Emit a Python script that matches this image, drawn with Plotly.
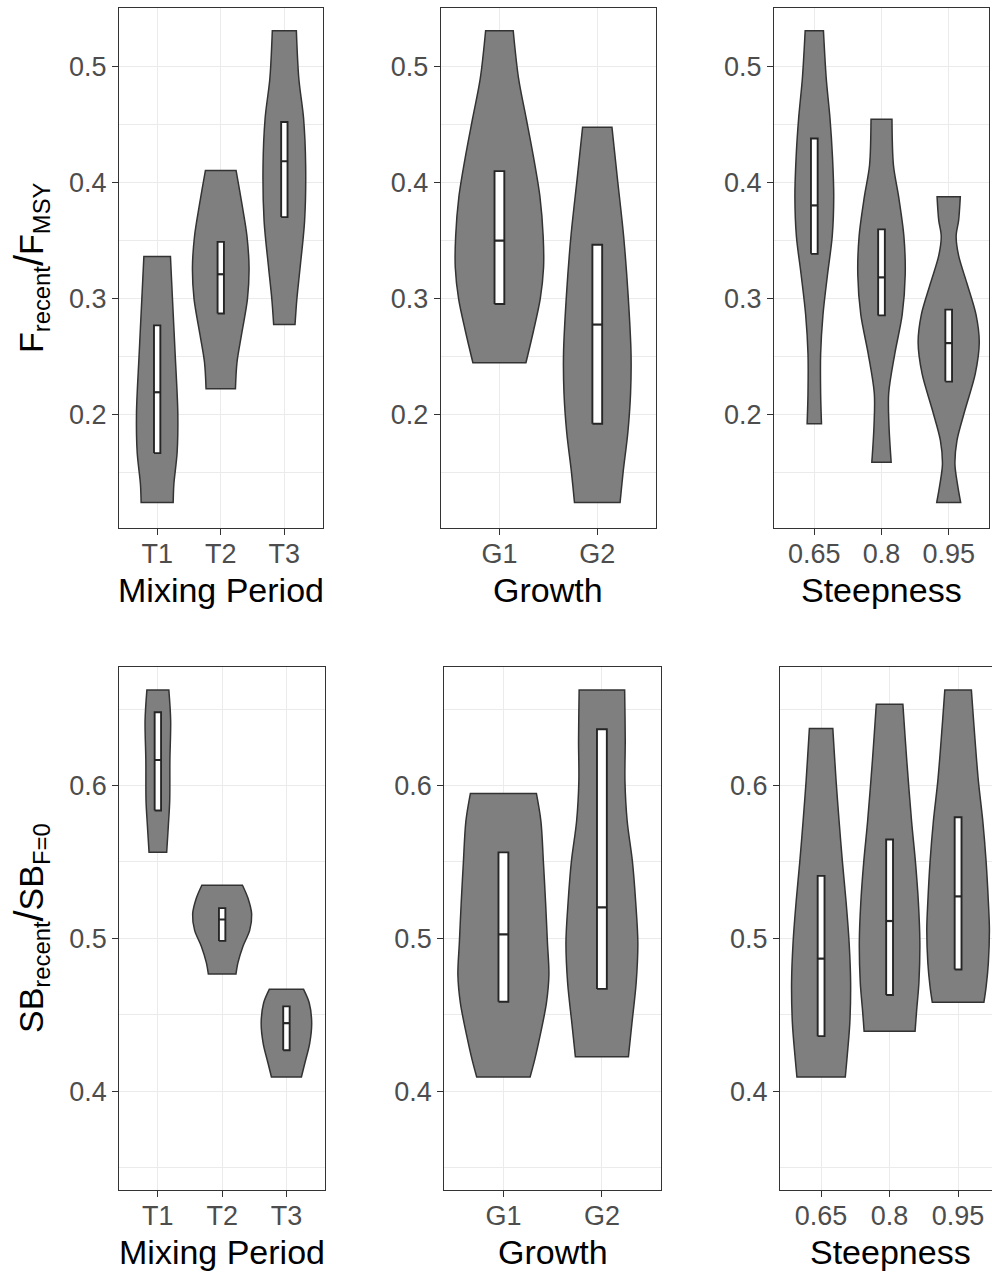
import plotly.graph_objects as go

# ---------------- data ----------------
mix_cats = ["T1", "T2", "T3"]
growth_cats = ["G1", "G2"]
steep_cats = ["0.65", "0.8", "0.95"]

# Violin profiles: y levels (top -> bottom) and half-widths (category units)
F_mix_y = [
    [0.3363, 0.2997, 0.2522, 0.2012, 0.1672, 0.1401, 0.1241],
    [0.4106, 0.381, 0.354, 0.3268, 0.2997, 0.2691, 0.2453, 0.2222],
    [0.5311, 0.4897, 0.4558, 0.415, 0.3675, 0.3268, 0.2997, 0.2776],
]
F_mix_w = [
    [0.209, 0.241, 0.283, 0.325, 0.314, 0.263, 0.252],
    [0.241, 0.335, 0.412, 0.445, 0.420, 0.327, 0.256, 0.231],
    [0.189, 0.228, 0.302, 0.335, 0.319, 0.248, 0.197, 0.168],
]
F_mix_q1 = [0.1667, 0.2871, 0.3703]
F_mix_med = [0.2192, 0.321, 0.4185]
F_mix_q3 = [0.2769, 0.3489, 0.4524]

F_growth_y = [
    [0.5311, 0.4897, 0.4558, 0.4218, 0.3879, 0.354, 0.3268, 0.2997, 0.2725, 0.2447],
    [0.4479, 0.4048, 0.354, 0.303, 0.2522, 0.2182, 0.1843, 0.1503, 0.1241],
]
F_growth_w = [
    [0.141, 0.196, 0.273, 0.349, 0.414, 0.447, 0.451, 0.417, 0.349, 0.271],
    [0.150, 0.204, 0.269, 0.315, 0.345, 0.340, 0.312, 0.264, 0.233],
]
F_growth_q1 = [0.2953, 0.192]
F_growth_med = [0.35, 0.2776]
F_growth_q3 = [0.41, 0.3465]

F_steep_y = [
    [0.5311, 0.4897, 0.4558, 0.4218, 0.3879, 0.354, 0.321, 0.2861, 0.2522, 0.2182, 0.192],
    [0.4547, 0.415, 0.3879, 0.354, 0.321, 0.2861, 0.2522, 0.2182, 0.191, 0.1588],
    [0.3879, 0.3675, 0.354, 0.337, 0.3132, 0.2861, 0.2623, 0.2352, 0.2047, 0.1775, 0.157, 0.1401, 0.1241],
]
F_steep_w = [
    [0.136, 0.178, 0.233, 0.271, 0.289, 0.267, 0.197, 0.129, 0.094, 0.094, 0.107],
    [0.156, 0.178, 0.255, 0.333, 0.353, 0.308, 0.197, 0.107, 0.111, 0.144],
    [0.173, 0.148, 0.111, 0.148, 0.271, 0.407, 0.455, 0.396, 0.247, 0.123, 0.093, 0.130, 0.178],
]
F_steep_q1 = [0.3386, 0.2855, 0.2284]
F_steep_med = [0.3804, 0.3183, 0.2616]
F_steep_q3 = [0.4381, 0.3597, 0.2905]

SB_mix_y = [
    [0.6624, 0.6426, 0.6162, 0.5898, 0.5739, 0.5563],
    [0.5348, 0.5264, 0.5159, 0.5053, 0.4948, 0.4842, 0.4768],
    [0.4667, 0.4578, 0.4446, 0.4314, 0.4182, 0.4094],
]
SB_mix_w = [
    [0.171, 0.199, 0.187, 0.184, 0.163, 0.137],
    [0.316, 0.401, 0.459, 0.428, 0.323, 0.246, 0.215],
    [0.267, 0.355, 0.393, 0.362, 0.285, 0.233],
]
SB_mix_q1 = [0.5837, 0.4984, 0.4269]
SB_mix_med = [0.6167, 0.5124, 0.4446]
SB_mix_q3 = [0.6479, 0.5198, 0.4556]

SB_growth_y = [
    [0.5948, 0.5766, 0.5502, 0.5238, 0.4974, 0.4762, 0.4578, 0.4366, 0.4208, 0.4094],
    [0.6624, 0.6294, 0.603, 0.5766, 0.5502, 0.5238, 0.4974, 0.471, 0.4446, 0.4226],
]
SB_growth_w = [
    [0.335, 0.381, 0.406, 0.428, 0.447, 0.462, 0.437, 0.373, 0.318, 0.271],
    [0.231, 0.237, 0.234, 0.257, 0.310, 0.343, 0.365, 0.348, 0.305, 0.269],
]
SB_growth_q1 = [0.4586, 0.467]
SB_growth_med = [0.5026, 0.5203]
SB_growth_q3 = [0.5563, 0.6368]

SB_steep_y = [
    [0.6373, 0.603, 0.5766, 0.5502, 0.5238, 0.4974, 0.471, 0.4446, 0.4235, 0.4094],
    [0.6532, 0.6162, 0.5766, 0.5502, 0.5238, 0.4974, 0.471, 0.4525, 0.4393],
    [0.6624, 0.6294, 0.603, 0.5766, 0.5502, 0.5238, 0.5061, 0.4842, 0.4683, 0.4583],
]
SB_steep_w = [
    [0.171, 0.219, 0.263, 0.311, 0.365, 0.409, 0.431, 0.419, 0.382, 0.353],
    [0.194, 0.251, 0.321, 0.377, 0.420, 0.442, 0.428, 0.394, 0.372],
    [0.194, 0.248, 0.296, 0.361, 0.409, 0.442, 0.457, 0.442, 0.409, 0.377],
]
SB_steep_q1 = [0.4361, 0.463, 0.4797]
SB_steep_med = [0.4868, 0.5114, 0.5275]
SB_steep_q3 = [0.5409, 0.5647, 0.5792]

# ---------------- layout geometry (pixels) ----------------
W, H = 992, 1276
FONT = "Liberation Sans, Arial, sans-serif"
DARK = "#333333"
GRID = "#EBEBEB"
TICKC = "#4D4D4D"
BOX_HALF = 0.05  # box width 0.1 category units

top_rng = [0.1021, 0.5507]
bot_rng = [0.3355, 0.6775]

panels = [
    dict(cats=mix_cats, y=F_mix_y, w=F_mix_w, q1=F_mix_q1, med=F_mix_med, q3=F_mix_q3,
         px=(119, 322.5), py=(8, 528), yr=top_rng, title="Mixing Period", xr=[0.4, 3.6], rmirror=True),
    dict(cats=growth_cats, y=F_growth_y, w=F_growth_w, q1=F_growth_q1, med=F_growth_med, q3=F_growth_q3,
         px=(440.7, 656), py=(8, 528), yr=top_rng, title="Growth", xr=[0.4, 2.6], rmirror=True),
    dict(cats=steep_cats, y=F_steep_y, w=F_steep_w, q1=F_steep_q1, med=F_steep_med, q3=F_steep_q3,
         px=(774, 989), py=(8, 528), yr=top_rng, title="Steepness", xr=[0.4, 3.6], rmirror=True),
    dict(cats=mix_cats, y=SB_mix_y, w=SB_mix_w, q1=SB_mix_q1, med=SB_mix_med, q3=SB_mix_q3,
         px=(119.3, 325), py=(667, 1190), yr=bot_rng, title="Mixing Period", xr=[0.4, 3.6], rmirror=True),
    dict(cats=growth_cats, y=SB_growth_y, w=SB_growth_w, q1=SB_growth_q1, med=SB_growth_med, q3=SB_growth_q3,
         px=(444.3, 661), py=(667, 1190), yr=bot_rng, title="Growth", xr=[0.4, 2.6], rmirror=True),
    dict(cats=steep_cats, y=SB_steep_y, w=SB_steep_w, q1=SB_steep_q1, med=SB_steep_med, q3=SB_steep_q3,
         px=(780, 1001), py=(667, 1190), yr=bot_rng, title="Steepness", xr=[0.4, 3.495], rmirror=False),
]

fig = go.Figure()
annotations = []
layout_axes = {}

for k, p in enumerate(panels):
    n = k + 1
    xa = "x" if n == 1 else f"x{n}"
    ya = "y" if n == 1 else f"y{n}"
    for i, cat in enumerate(p["cats"]):
        c = i + 1
        ys = p["y"][i]
        ws = p["w"][i]
        top, bot = ys[0], ys[-1]
        left = [c - w for w in ws[::-1]]
        right = [c + w for w in ws]
        # corners repeated so the spline keeps them sharp
        xs = [c, left[0]] + left + [left[-1], c, right[0]] + right + [right[-1], c]
        yv = [bot, bot] + ys[::-1] + [top, top, top] + ys + [bot, bot]
        fig.add_trace(go.Scatter(
            x=xs, y=yv, mode="lines", fill="toself", fillcolor="#7F7F7F",
            line=dict(color=DARK, width=1.5, shape="spline", smoothing=0.9, simplify=False),
            xaxis=xa, yaxis=ya, hoverinfo="skip", showlegend=False))
        q1, md, q3 = p["q1"][i], p["med"][i], p["q3"][i]
        fig.add_trace(go.Scatter(
            x=[c - BOX_HALF, c + BOX_HALF, c + BOX_HALF, c - BOX_HALF, c - BOX_HALF],
            y=[q1, q1, q3, q3, q1], mode="lines", fill="toself", fillcolor="white",
            line=dict(color="#262626", width=1.9), xaxis=xa, yaxis=ya,
            hoverinfo="skip", showlegend=False))
        fig.add_trace(go.Scatter(
            x=[c - BOX_HALF, c + BOX_HALF], y=[md, md], mode="lines",
            line=dict(color="#262626", width=2.2), xaxis=xa, yaxis=ya,
            hoverinfo="skip", showlegend=False))

    x0, x1 = p["px"]
    y0, y1 = p["py"]
    dom_x = [x0 / W, min(x1 / W, 1.0)]
    dom_y = [1 - y1 / H, 1 - y0 / H]
    common = dict(showline=True, linecolor=DARK, linewidth=1.1,
                  ticks="outside", ticklen=6, tickwidth=1.1, tickcolor=DARK,
                  tickfont=dict(family=FONT, size=27, color=TICKC),
                  showgrid=True, gridcolor=GRID, gridwidth=1.1, zeroline=False,
                  fixedrange=True)
    layout_axes["xaxis" if n == 1 else f"xaxis{n}"] = dict(
        common, domain=dom_x, range=p["xr"], tickmode="array",
        tickvals=list(range(1, len(p["cats"]) + 1)), ticktext=p["cats"],
        anchor=ya, mirror=True, ticklabelstandoff=-4)
    layout_axes["yaxis" if n == 1 else f"yaxis{n}"] = dict(
        common, domain=dom_y, range=p["yr"], tickmode="linear", tick0=0, dtick=0.1,
        tickformat=".1f", anchor=xa, mirror=p["rmirror"],
        minor=dict(tick0=0.05, dtick=0.1, showgrid=True, gridcolor=GRID, gridwidth=0.6, ticks=""))
    xc = (x0 + x1) / 2
    annotations.append(dict(
        text=p["title"], xref="paper", yref="paper",
        x=xc / W, y=1 - (y1 + 62) / H, xanchor="center", yanchor="middle",
        showarrow=False, font=dict(family=FONT, size=34, color="black")))

annotations.append(dict(
    text="F<sub>recent</sub><span style='font-size:40px'>/</span>F<sub>MSY</sub>",
    xref="paper", yref="paper", x=31 / W, y=1 - 268 / H, textangle=-90,
    xanchor="center", yanchor="middle", showarrow=False,
    font=dict(family=FONT, size=34, color="black")))
annotations.append(dict(
    text="SB<sub>recent</sub><span style='font-size:40px'>/</span>SB<sub>F=0</sub>",
    xref="paper", yref="paper", x=31 / W, y=1 - 928 / H, textangle=-90,
    xanchor="center", yanchor="middle", showarrow=False,
    font=dict(family=FONT, size=34, color="black")))

fig.update_layout(
    width=W, height=H, margin=dict(l=0, r=0, t=0, b=0, pad=0),
    paper_bgcolor="white", plot_bgcolor="white",
    font=dict(family=FONT, size=27, color=TICKC),
    showlegend=False, annotations=annotations, **layout_axes)

fig.write_html("out.html", config={"displayModeBar": False},
               post_script="document.body.style.margin='0';")
